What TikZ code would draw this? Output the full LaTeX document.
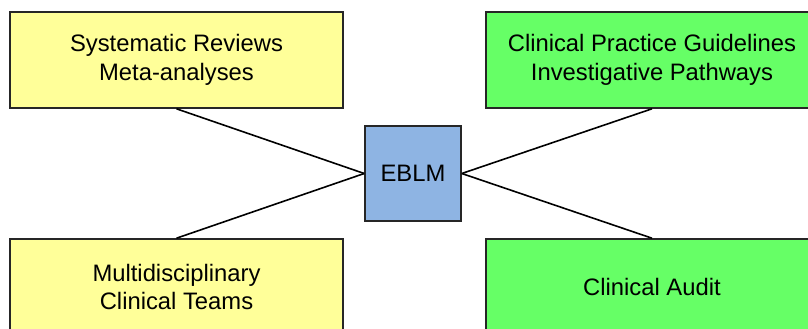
\documentclass[tikz,border=0pt]{standalone}
\usepackage{fontspec}
\setmainfont{Liberation Sans}
\definecolor{boxyellow}{HTML}{FFFF99}
\definecolor{boxgreen}{HTML}{66FF66}
\definecolor{boxblue}{HTML}{8EB4E3}
\begin{document}
\begin{tikzpicture}[x=1pt,y=-1pt,
  box/.style={draw=black!85, line width=1.6pt, inner sep=0pt, align=center,
    font=\fontsize{23.8}{28.5}\selectfont},
  link/.style={draw=black, line width=1.6pt}]
\useasboundingbox (0,0) rectangle (808,329);
\begin{scope}
\clip (0,0) rectangle (808,329);
\node[box, fill=boxyellow, minimum width=333pt, minimum height=96pt] (sr) at (176.5,60) {Systematic Reviews\\Meta-analyses};
\node[box, fill=boxgreen, minimum width=332pt, minimum height=96pt] (cpg) at (652,60) {Clinical Practice Guidelines\\Investigative Pathways};
\node[box, fill=boxyellow, minimum width=333pt, minimum height=96pt] (mct) at (176.5,287) {Multidisciplinary\\Clinical Teams};
\node[box, fill=boxgreen, minimum width=332pt, minimum height=96pt] (ca) at (652,287) {Clinical Audit};
\node[box, fill=boxblue, minimum width=96pt, minimum height=95pt] (eblm) at (413,173.5) {EBLM};
\draw[link] (sr.south) -- (eblm.west);
\draw[link] (mct.north) -- (eblm.west);
\draw[link] (eblm.east) -- (cpg.south);
\draw[link] (eblm.east) -- (ca.north);
\end{scope}
\end{tikzpicture}
\end{document}
